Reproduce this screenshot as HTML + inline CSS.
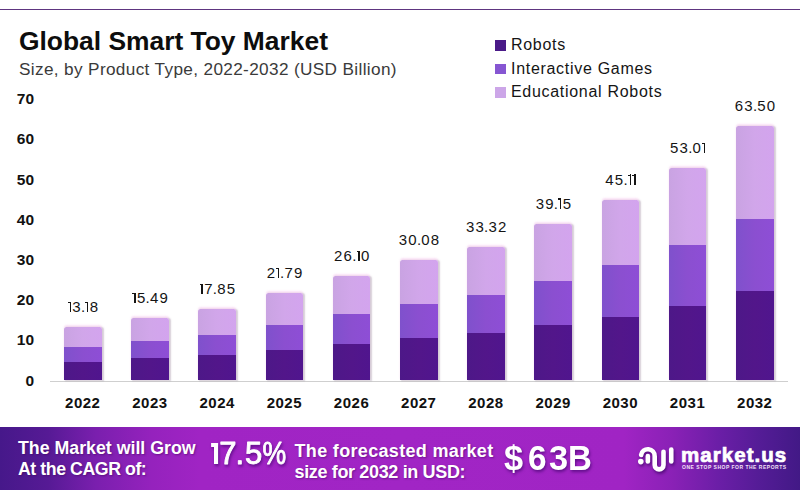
<!DOCTYPE html>
<html><head><meta charset="utf-8">
<style>
*{margin:0;padding:0;box-sizing:border-box}
html,body{width:800px;height:500px;overflow:hidden;background:#fff}
body{position:relative;font-family:"Liberation Sans",sans-serif;color:#111}
.topline{position:absolute;left:0;top:9px;width:800px;height:1px;background:#5e3580}
.title{position:absolute;left:19px;top:26px;font-size:26.4px;font-weight:700;color:#0d0d0d;white-space:nowrap;line-height:30px}
.sub{position:absolute;left:19px;top:58px;font-size:17.2px;letter-spacing:0.35px;color:#3a3a3a;white-space:nowrap;line-height:22px}
.leg{position:absolute;left:495px;width:10.5px;height:10.5px}
.legt{position:absolute;left:511px;font-size:16px;letter-spacing:0.7px;color:#151515;white-space:nowrap;line-height:18px}
.yl{position:absolute;left:0;width:34.5px;text-align:right;font-size:15.5px;letter-spacing:0.3px;font-weight:700;color:#111;line-height:18px}
.bar{position:absolute;width:37.5px;display:flex;flex-direction:column;border-radius:2.5px 2.5px 0 0;overflow:hidden;box-shadow:1.5px 0.5px 1.5px rgba(110,90,120,0.28),0 -1.5px 2px rgba(245,190,235,0.45)}
.bar .l{background:linear-gradient(90deg,#c9a3e2,#d1a6ea 50%,#d3a4ee)}
.bar .m{background:linear-gradient(90deg,#7f51cc,#8b4fd0 50%,#8e4ed6)}
.bar .d{background:linear-gradient(90deg,#4d1888,#52168a 50%,#50158e)}
.baseline{position:absolute;left:50px;top:380.5px;width:738px;height:1px;background:#cfcfcf}
.val{position:absolute;width:80px;text-align:center;font-size:15px;letter-spacing:1.15px;color:#151515;line-height:16px;white-space:nowrap}
.dot{margin:0 -0.9px 0 -0.9px}
.one{display:inline-block;position:relative;width:4.5px;height:10.3px}
.one::before{content:"";position:absolute;left:1.75px;top:0;width:1.35px;height:10.3px;background:currentColor}
.one::after{content:"";position:absolute;left:0;top:0.05px;width:2.5px;height:1.25px;background:currentColor}
.xl{position:absolute;top:394.3px;width:80px;text-align:center;font-size:15px;letter-spacing:0.5px;font-weight:700;color:#111;line-height:18px}
.banner{position:absolute;left:0;top:427px;width:800px;height:63px;
 background:linear-gradient(90deg,#46188a 0%,#561a95 6%,#7a1fae 12%,#9522bd 19%,#a024c4 25%,#a125c5 50%,#a024c4 78%,#8a21b6 84%,#6a1ea6 90%,#541c96 95%,#421986 100%)}
.bt{position:absolute;color:#fff;font-weight:700;white-space:nowrap;text-shadow:1px 1px 2px rgba(60,0,90,0.5)}
.ov{position:absolute;left:0;top:0}
.big{-webkit-text-stroke:0.6px #fff;text-shadow:1.5px 2px 2px rgba(50,0,90,0.6)}
</style></head><body>
<div class="topline"></div>
<div class="title">Global Smart Toy Market</div>
<div class="sub">Size, by Product Type, 2022-2032 (USD Billion)</div>

<div class="leg" style="top:40.2px;background:#4a1a88"></div>
<div class="legt" style="top:36px">Robots</div>
<div class="leg" style="top:63.7px;background:#8656d2"></div>
<div class="legt" style="top:59.5px">Interactive Games</div>
<div class="leg" style="top:87.2px;background:#cca6e8"></div>
<div class="legt" style="top:83px">Educational Robots</div>

<div class="yl" style="top:371.70px">0</div>
<div class="yl" style="top:331.46px">10</div>
<div class="yl" style="top:291.22px">20</div>
<div class="yl" style="top:250.98px">30</div>
<div class="yl" style="top:210.74px">40</div>
<div class="yl" style="top:170.50px">50</div>
<div class="yl" style="top:130.26px">60</div>
<div class="yl" style="top:90.02px">70</div>
<div class="baseline"></div>
<div class="bar" style="left:64.00px;top:327.48px;height:52.72px"><div class="l" style="height:19.19px"></div><div class="m" style="height:15.03px"></div><div class="d" style="height:18.50px"></div></div>
<div class="bar" style="left:131.20px;top:318.24px;height:61.96px"><div class="l" style="height:22.55px"></div><div class="m" style="height:17.66px"></div><div class="d" style="height:21.75px"></div></div>
<div class="bar" style="left:198.40px;top:308.80px;height:71.40px"><div class="l" style="height:25.99px"></div><div class="m" style="height:20.35px"></div><div class="d" style="height:25.06px"></div></div>
<div class="bar" style="left:265.60px;top:293.04px;height:87.16px"><div class="l" style="height:31.73px"></div><div class="m" style="height:24.84px"></div><div class="d" style="height:30.59px"></div></div>
<div class="bar" style="left:332.80px;top:275.80px;height:104.40px"><div class="l" style="height:38.00px"></div><div class="m" style="height:29.75px"></div><div class="d" style="height:36.64px"></div></div>
<div class="bar" style="left:400.00px;top:259.88px;height:120.32px"><div class="l" style="height:43.80px"></div><div class="m" style="height:34.29px"></div><div class="d" style="height:42.23px"></div></div>
<div class="bar" style="left:467.20px;top:246.92px;height:133.28px"><div class="l" style="height:48.51px"></div><div class="m" style="height:37.98px"></div><div class="d" style="height:46.78px"></div></div>
<div class="bar" style="left:534.40px;top:223.60px;height:156.60px"><div class="l" style="height:57.00px"></div><div class="m" style="height:44.63px"></div><div class="d" style="height:54.97px"></div></div>
<div class="bar" style="left:601.60px;top:199.76px;height:180.44px"><div class="l" style="height:65.68px"></div><div class="m" style="height:51.43px"></div><div class="d" style="height:63.33px"></div></div>
<div class="bar" style="left:668.80px;top:168.16px;height:212.04px"><div class="l" style="height:77.18px"></div><div class="m" style="height:60.43px"></div><div class="d" style="height:74.43px"></div></div>
<div class="bar" style="left:736.00px;top:126.20px;height:254.00px"><div class="l" style="height:92.46px"></div><div class="m" style="height:72.39px"></div><div class="d" style="height:89.15px"></div></div>
<div class="val" style="left:43.55px;top:299.48px"><span class="one"></span>3<span class="dot">.</span><span class="one"></span>8</div>
<div class="val" style="left:110.75px;top:290.24px"><span class="one"></span>5<span class="dot">.</span>49</div>
<div class="val" style="left:177.95px;top:280.80px"><span class="one"></span>7<span class="dot">.</span>85</div>
<div class="val" style="left:245.15px;top:265.04px">2<span class="one"></span><span class="dot">.</span>79</div>
<div class="val" style="left:312.35px;top:247.80px">26<span class="dot">.</span><span class="one"></span>0</div>
<div class="val" style="left:379.55px;top:231.88px">30<span class="dot">.</span>08</div>
<div class="val" style="left:446.75px;top:218.92px">33<span class="dot">.</span>32</div>
<div class="val" style="left:513.95px;top:195.60px">39<span class="dot">.</span><span class="one"></span>5</div>
<div class="val" style="left:581.15px;top:171.76px">45<span class="dot">.</span><span class="one"></span><span class="one"></span></div>
<div class="val" style="left:648.35px;top:140.16px">53<span class="dot">.</span>0<span class="one"></span></div>
<div class="val" style="left:715.55px;top:98.20px">63<span class="dot">.</span>50</div>
<div class="xl" style="left:42.75px">2022</div>
<div class="xl" style="left:109.95px">2023</div>
<div class="xl" style="left:177.15px">2024</div>
<div class="xl" style="left:244.35px">2025</div>
<div class="xl" style="left:311.55px">2026</div>
<div class="xl" style="left:378.75px">2027</div>
<div class="xl" style="left:445.95px">2028</div>
<div class="xl" style="left:513.15px">2029</div>
<div class="xl" style="left:580.35px">2030</div>
<div class="xl" style="left:647.55px">2031</div>
<div class="xl" style="left:714.75px">2032</div>

<div class="banner"></div>
<div class="bt" style="left:18px;top:438px;font-size:17.75px;line-height:21px">The Market will Grow<br><span style="letter-spacing:-0.45px">At the CAGR of:</span></div>
<div class="bt" style="left:294.5px;top:441px;font-size:18px;line-height:21px;letter-spacing:0.33px">The forecasted market<br><span style="letter-spacing:-0.35px">size for 2032 in USD:</span></div>
<svg class="ov" style="filter:drop-shadow(1.5px 2px 1.5px rgba(55,0,100,0.6))" width="800" height="500" viewBox="0 0 800 500">
 <g fill="#fff">
  <path d="M214 443.1 H218.1 V463.9 H214 Z M211.1 443.1 H214.5 V446.9 H211.1 Z"/>
  <text y="464.3" font-size="31" font-family="Liberation Sans" stroke="#fff" stroke-width="0.9" stroke-linejoin="round"><tspan x="219.3">7</tspan><tspan x="235.5">.</tspan><tspan x="245.1">5</tspan></text>
  <text transform="translate(262.5 0) scale(0.86 1)" x="0" y="464.3" font-size="31" font-family="Liberation Sans" stroke="#fff" stroke-width="0.9" stroke-linejoin="round">%</text>
  <g font-size="35.5" font-weight="700" font-family="Liberation Sans">
   <text transform="translate(504 470.2) scale(0.97 1)">$</text>
   <text transform="translate(528.1 470.2) scale(0.94 1)">6</text>
   <text transform="translate(548.9 470.2) scale(0.97 1)">3</text>
   <text transform="translate(567.9 470.2) scale(0.93 1)">B</text>
  </g>
 </g>
</svg>
<svg class="ov" style="filter:drop-shadow(1.5px 2px 1.5px rgba(50,0,90,0.65))" width="800" height="500" viewBox="0 0 800 500">
 <g fill="none" stroke="#fff" stroke-width="4.6" stroke-linecap="round">
  <path d="M641.1 455 A6.85 6.85 0 0 1 654.7 456.35 V465 A4.4 4.4 0 0 0 663.5 465 V451.7"/>
  <path d="M647.85 456 V461.5"/>
  <path d="M671.25 449.5 V461.5"/>
 </g>
 <circle cx="640.8" cy="461.6" r="2.8" fill="#fff"/>
</svg>
<div class="bt" style="left:681px;top:442.5px;font-size:20.5px;line-height:24px;letter-spacing:1.05px;-webkit-text-stroke:0.7px #fff;text-shadow:none">market.us</div>
<div class="bt" style="left:682px;top:463.5px;font-size:5px;line-height:6px;letter-spacing:0.5px;text-shadow:none;color:#f3e0f7">ONE STOP SHOP FOR THE REPORTS</div>
</body></html>
